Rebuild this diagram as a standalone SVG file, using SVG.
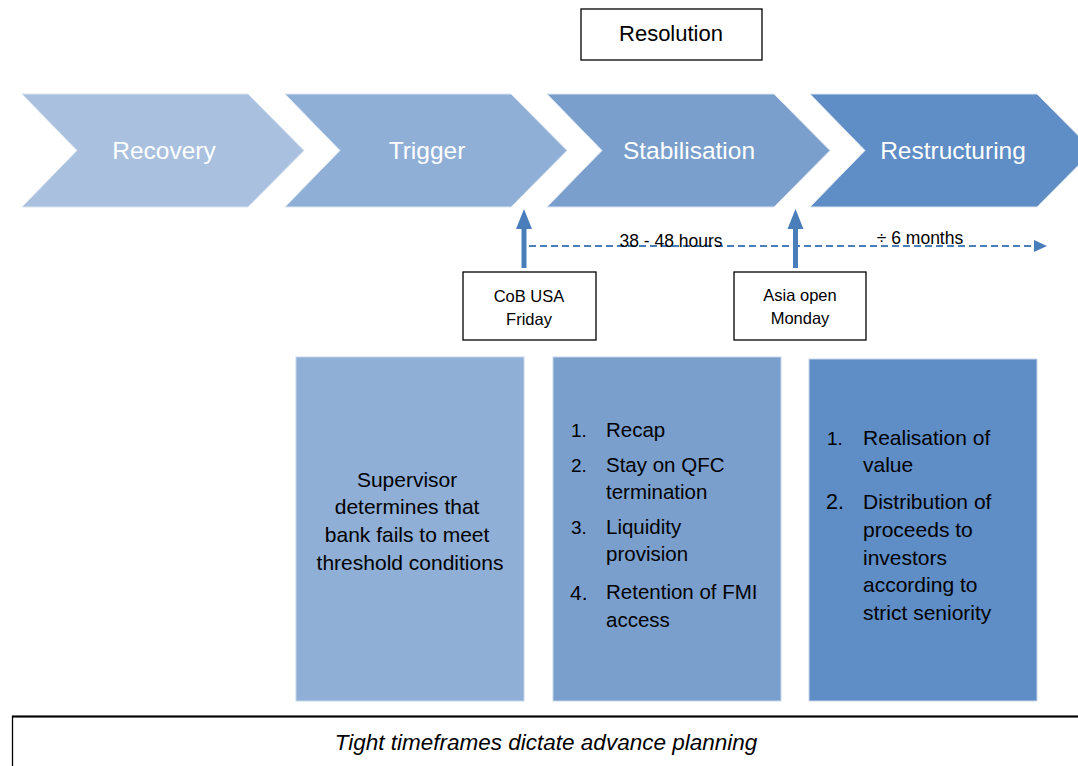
<svg xmlns="http://www.w3.org/2000/svg" width="1078" height="766" viewBox="0 0 1078 766">
<defs>
<style>
.chev{stroke:#dbe5f1;stroke-width:1}
.ct{font-family:"Liberation Sans",Arial,sans-serif;font-size:24.5px;fill:#ffffff;text-anchor:middle}
.bt{font-family:"Liberation Sans",Arial,sans-serif;fill:#000000}
.box{fill:#ffffff;stroke:#000000;stroke-width:1.3}
.panel{stroke:#c5d5ea;stroke-width:1}
.up{fill:#4a7ebb}
</style>
<marker id="dh" markerWidth="13" markerHeight="12" refX="12" refY="6" orient="auto" markerUnits="userSpaceOnUse">
<path d="M0,0 L13,6 L0,12 z" fill="#4a7ebb"/>
</marker>
</defs>
<rect width="1078" height="766" fill="#ffffff"/>

<g id="resolution">
<rect class="box" x="581" y="9" width="181" height="51"/>
<text class="bt" x="671" y="41" font-size="22" text-anchor="middle">Resolution</text>
</g>

<g id="recovery">
<polygon class="chev" fill="#a9c1df" points="22,94 248,94 304,150.5 248,207 22,207 77,150.5"/>
<text class="ct" x="164" y="159">Recovery</text>
</g>
<g id="trigger">
<polygon class="chev" fill="#8fafd6" points="285,94 511,94 567,150.5 511,207 285,207 340,150.5"/>
<text class="ct" x="427" y="159">Trigger</text>
</g>
<g id="stabilisation">
<polygon class="chev" fill="#7a9fcc" points="547,94 774,94 830,150.5 774,207 547,207 602,150.5"/>
<text class="ct" x="689" y="159">Stabilisation</text>
</g>
<g id="restructuring">
<polygon class="chev" fill="#5f8dc5" points="810,94 1037,94 1093,150.5 1037,207 810,207 865,150.5"/>
<text class="ct" x="953" y="159">Restructuring</text>
</g>

<g id="connectors">
<line x1="529" y1="246" x2="1046" y2="246" stroke="#4a7ebb" stroke-width="2" stroke-dasharray="7,4" marker-end="url(#dh)"/>
<polygon class="up" points="521.5,268 526.5,268 526.5,229 532,229 524,209 516,229 521.5,229"/>
<polygon class="up" points="793,268 798,268 798,229 803.5,229 795.5,209 787.5,229 793,229"/>
</g>

<g id="label-hours">
<text class="bt" x="671" y="247" font-size="17.5" text-anchor="middle">38 - 48 hours</text>
</g>
<g id="label-months">
<text class="bt" x="920" y="244" font-size="17.5" text-anchor="middle">÷ 6 months</text>
</g>

<g id="cob">
<rect class="box" x="463" y="272" width="133" height="68"/>
<text class="bt" x="529" y="302" font-size="16.5" text-anchor="middle">CoB USA</text>
<text class="bt" x="529" y="325" font-size="16.5" text-anchor="middle">Friday</text>
</g>
<g id="asia">
<rect class="box" x="734" y="272" width="132" height="68"/>
<text class="bt" x="800" y="301" font-size="16.5" text-anchor="middle">Asia open</text>
<text class="bt" x="800" y="324" font-size="16.5" text-anchor="middle">Monday</text>
</g>

<g id="supervisor">
<rect class="panel" fill="#8fafd6" x="296" y="357" width="228" height="344"/>
<text class="bt" font-size="21" text-anchor="middle">
<tspan x="410" y="487">Supervisor</tspan>
<tspan x="410" y="514">determines that</tspan>
<tspan x="410" y="542">bank fails to meet</tspan>
<tspan x="410" y="570">threshold conditions</tspan>
</text>
</g>

<g id="stab-list">
<rect class="panel" fill="#7a9fcc" x="553" y="357" width="228" height="344"/>
<text class="bt" font-size="19">
<tspan x="571" y="437">1.</tspan>
<tspan x="571" y="472">2.</tspan>
<tspan x="571" y="534">3.</tspan>
</text>
<text class="bt" font-size="21" x="570" y="600">4.</text>
<text class="bt" font-size="20.5">
<tspan x="606" y="437">Recap</tspan>
<tspan x="606" y="472">Stay on QFC</tspan>
<tspan x="606" y="499">termination</tspan>
<tspan x="606" y="534">Liquidity</tspan>
<tspan x="606" y="561">provision</tspan>
<tspan x="606" y="599">Retention of FMI</tspan>
<tspan x="606" y="627">access</tspan>
</text>
</g>

<g id="restr-list">
<rect class="panel" fill="#5f8dc5" x="809" y="359" width="228" height="342"/>
<text class="bt" font-size="19" x="827" y="445">1.</text>
<text class="bt" font-size="21.5" x="826" y="509">2.</text>
<text class="bt" font-size="21">
<tspan x="863" y="445">Realisation of</tspan>
<tspan x="863" y="472">value</tspan>
<tspan x="863" y="509">Distribution of</tspan>
<tspan x="863" y="537">proceeds to</tspan>
<tspan x="863" y="565">investors</tspan>
<tspan x="863" y="592">according to</tspan>
<tspan x="863" y="620">strict seniority</tspan>
</text>
</g>

<g id="banner">
<rect x="12.5" y="716.5" width="1080" height="60" fill="#ffffff" stroke="#000000" stroke-width="1.3"/>
<line x1="12" y1="716.5" x2="1078" y2="716.5" stroke="#000000" stroke-width="2"/>
<text class="bt" x="546" y="750" font-size="22.5" font-style="italic" text-anchor="middle">Tight timeframes dictate advance planning</text>
</g>
</svg>
